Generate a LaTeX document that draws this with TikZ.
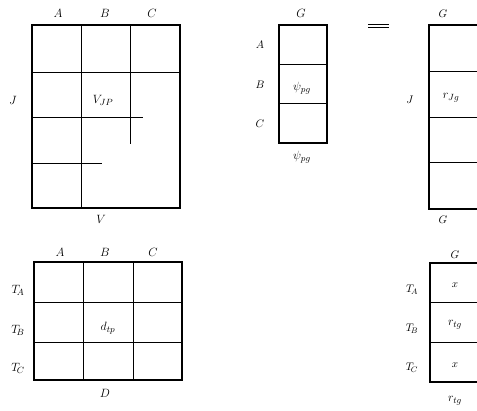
\documentclass[tikz,border=0pt]{standalone}
\begin{document}
\begin{tikzpicture}[x=1pt,y=-1pt,
  outer/.style={line width=1.1pt},
  inner/.style={line width=0.9pt},
  lbl/.style={inner sep=0pt,font=\fontsize{13}{15}\selectfont},
  slbl/.style={inner sep=0pt,font=\fontsize{11}{13}\selectfont}]
\useasboundingbox (0,0) rectangle (477,411);
\clip (0,0) rectangle (477,411);
% ---------- matrix V ----------
\draw[outer] (32,25) rectangle (180,208);
\draw[inner] (32,72) -- (180,72);
\draw[inner] (32,117) -- (143,117);
\draw[inner] (32,163) -- (102,163);
\draw[inner] (81,25) -- (81,208);
\draw[inner] (130,25) -- (130,144);
\node[lbl] (vA) at (58,13) {$A$};
\node[lbl] (vB) at (105,13) {$B$};
\node[lbl] (vC) at (152,13) {$C$};
\node[lbl] (vJ) at (13,100) {$J$};
\node[lbl] (vjp) at (103,100) {$V_{JP}$};
\node[lbl] (vV) at (101,219) {$V$};
% ---------- matrix psi ----------
\draw[outer] (279,25) rectangle (327,143);
\draw[inner] (279,64) -- (327,64);
\draw[inner] (279,103) -- (327,103);
\node[lbl] (pG) at (301,13) {$G$};
\node[slbl] (pA) at (260,45) {$A$};
\node[slbl] (pB) at (260,85) {$B$};
\node[slbl] (pC) at (260,124) {$C$};
\node[lbl] (ppg) at (302,88) {$\psi_{pg}$};
\node[lbl] (ppgb) at (302,157) {$\psi_{pg}$};
% ---------- equals ----------
\draw[line width=0.5pt] (368,24.5) -- (389,24.5);
\draw[line width=1pt] (368,28) -- (389,28);
% ---------- matrix r (top right) ----------
\draw[outer] (490,25) -- (429,25) -- (429,209) -- (490,209);
\draw[inner] (429,71) -- (490,71);
\draw[inner] (429,117) -- (490,117);
\draw[inner] (429,162) -- (490,162);
\node[slbl] (rG) at (443,14) {$G$};
\node[slbl] (rJ) at (410,100) {$J$};
\node[lbl] (rjg) at (451,98) {$r_{Jg}$};
\node[slbl] (rGb) at (443,220) {$G$};
% ---------- matrix D ----------
\draw[outer] (34,262) rectangle (182,380);
\draw[inner] (83,262) -- (83,380);
\draw[inner] (133,262) -- (133,380);
\draw[inner] (34,302) -- (182,302);
\draw[inner] (34,342) -- (182,342);
\node[lbl] (dA) at (60,252) {$A$};
\node[lbl] (dB) at (105,252) {$B$};
\node[lbl] (dC) at (153,252) {$C$};
\node[lbl] (dTA) at (18,290) {$T_{\!A}$};
\node[lbl] (dTB) at (18,330) {$T_{\!B}$};
\node[lbl] (dTC) at (18,368) {$T_{\!C}$};
\node[lbl] (dtp) at (108,328) {$d_{tp}$};
\node[lbl] (dD) at (105,393) {$D$};
% ---------- matrix r_tg (bottom right) ----------
\draw[outer] (490,263) -- (430,263) -- (430,382) -- (490,382);
\draw[inner] (430,302) -- (490,302);
\draw[inner] (430,342) -- (490,342);
\node[slbl] (tG) at (455,255) {$G$};
\node[slbl] (tTA) at (412,290) {$T_{\!A}$};
\node[slbl] (tTB) at (412,329) {$T_{\!B}$};
\node[slbl] (tTC) at (412,368) {$T_{\!C}$};
\node[slbl] (tx1) at (455,285) {$x$};
\node[lbl] (trtg) at (455,325) {$r_{tg}$};
\node[slbl] (tx2) at (455,365) {$x$};
\node[lbl] (trtgb) at (455,401) {$r_{tg}$};
\end{tikzpicture}
\end{document}
